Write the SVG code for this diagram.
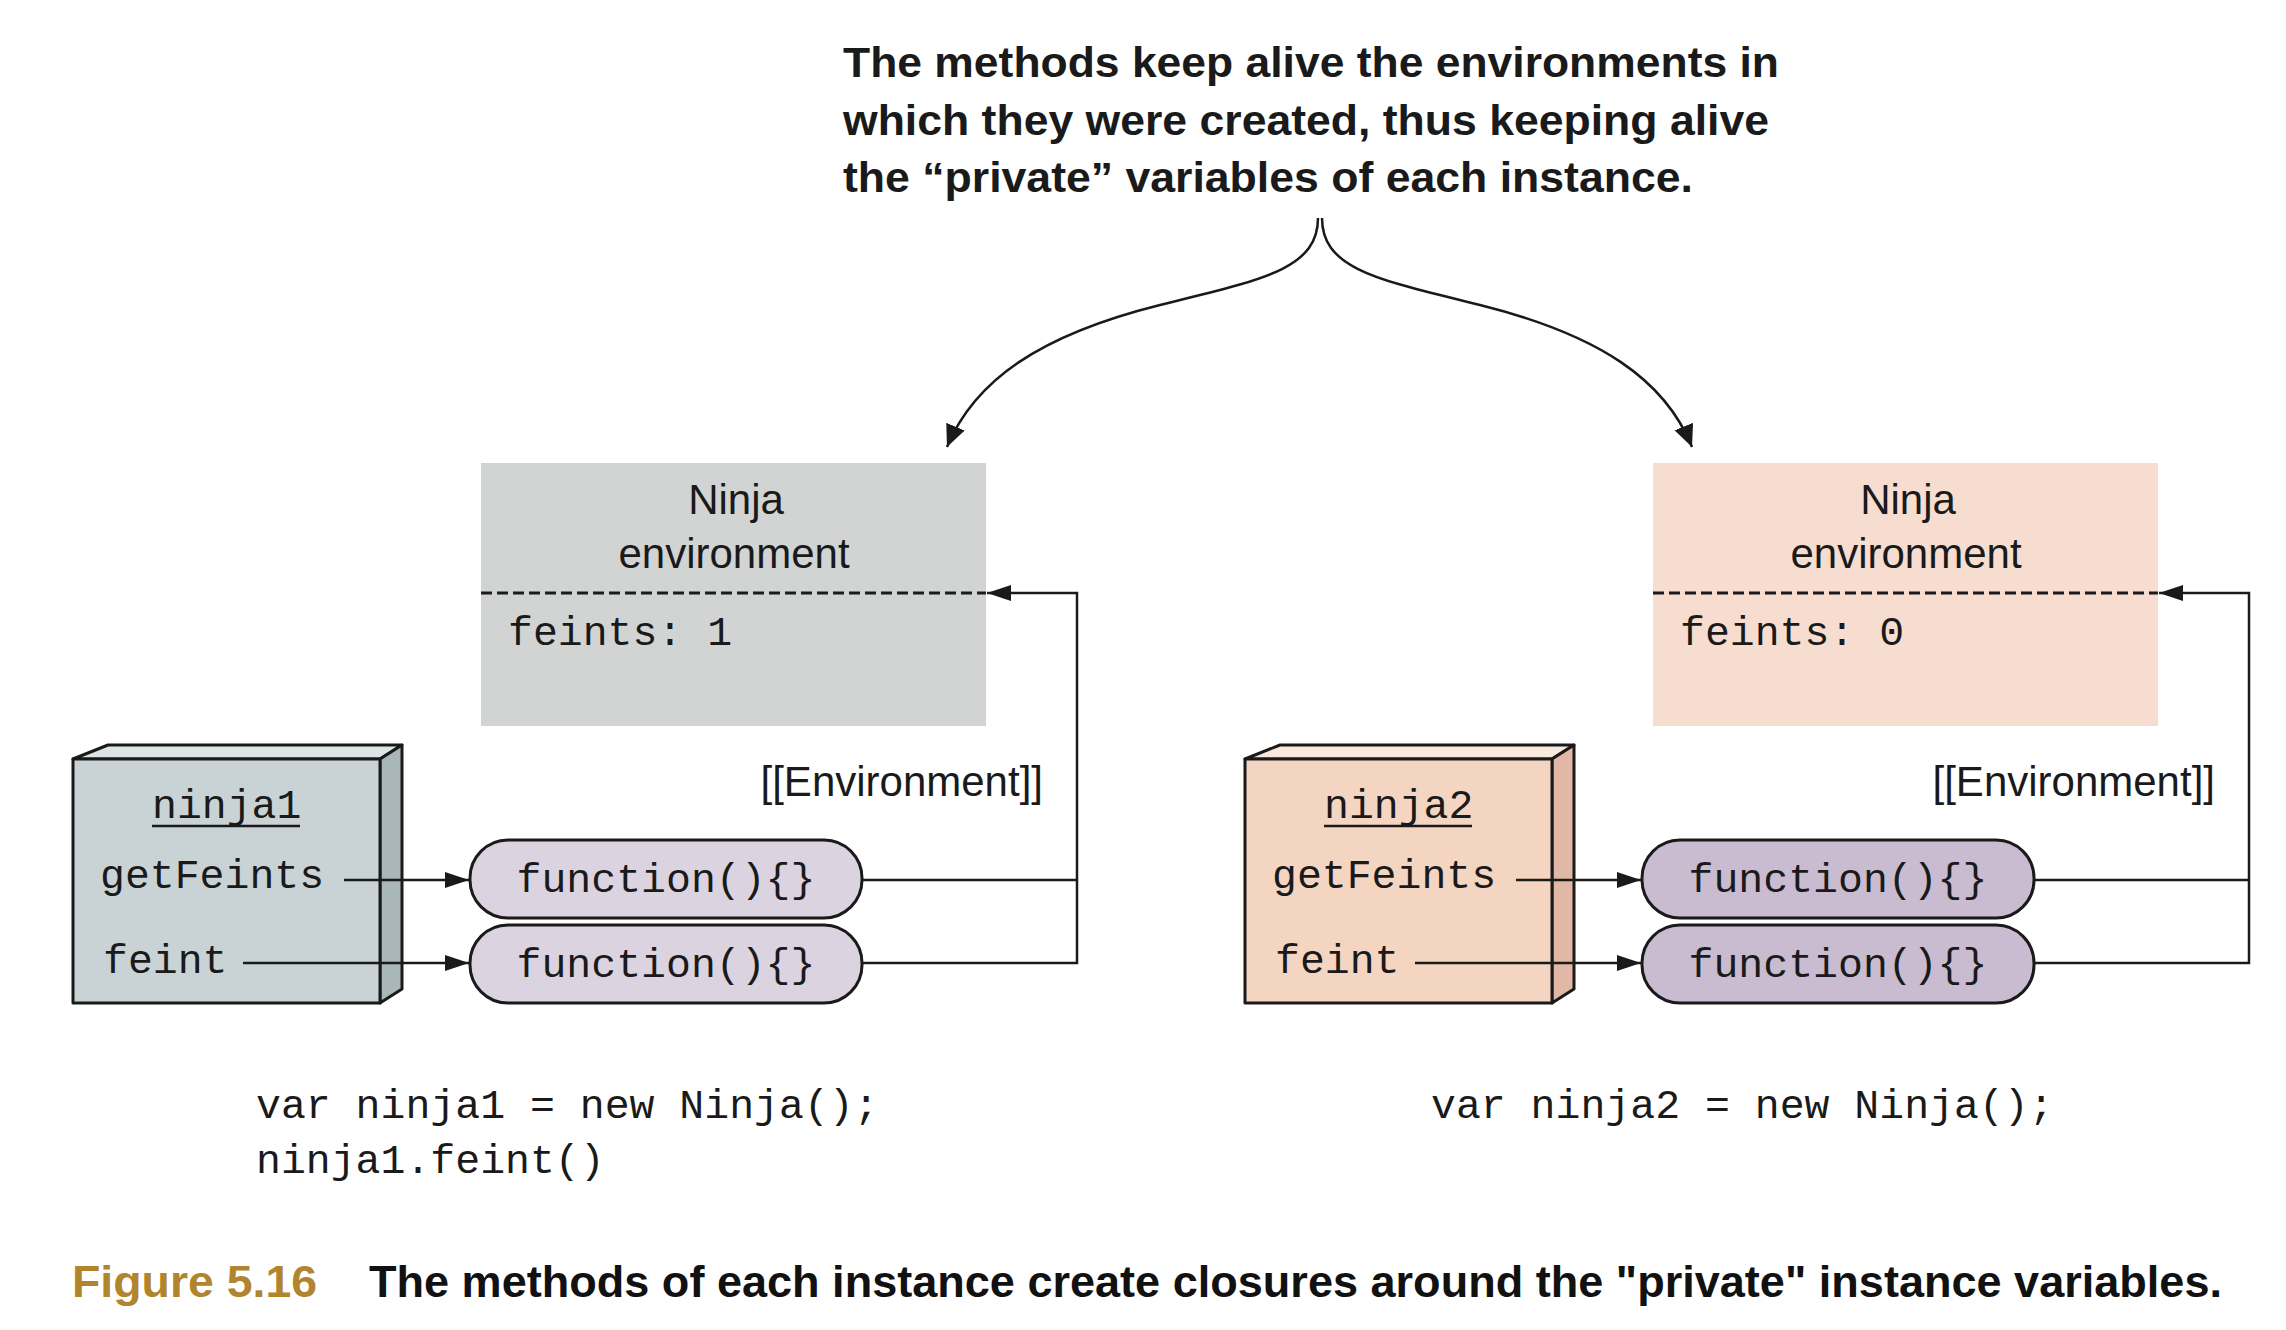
<svg xmlns="http://www.w3.org/2000/svg" width="2286" height="1330" viewBox="0 0 2286 1330">
<defs>
<style>
.note{font-family:"Liberation Sans",Arial,sans-serif;font-weight:bold;font-size:43px;fill:#1a1a1a}
.sans{font-family:"Liberation Sans",Arial,sans-serif;font-size:42px;fill:#1a1a1a}
.mono{font-family:"Liberation Mono","Courier New",monospace;font-size:41.5px;fill:#1a1a1a}
.cap{font-family:"Liberation Sans",Arial,sans-serif;font-weight:bold;font-size:45px}
.edge{fill:none;stroke:#1a1a1a;stroke-width:2.5}
.outline{stroke:#1a1a1a;stroke-width:3;stroke-linejoin:round}
.dash{stroke:#1a1a1a;stroke-width:3;stroke-dasharray:11 5}
</style>
<marker id="ah" markerUnits="userSpaceOnUse" markerWidth="26" markerHeight="18" refX="24" refY="8" orient="auto">
<path d="M0,0 L24,8 L0,16 Z" fill="#1a1a1a"/>
</marker>
<marker id="ahc" markerUnits="userSpaceOnUse" markerWidth="24" markerHeight="22" refX="22" refY="10" orient="auto">
<path d="M0,0 L22,10 L0,20 Z" fill="#1a1a1a"/>
</marker>
</defs>
<rect width="2286" height="1330" fill="#ffffff"/>

<g id="note">
<text class="note" x="843" y="77" textLength="936" lengthAdjust="spacingAndGlyphs">The methods keep alive the environments in</text>
<text class="note" x="843" y="135" textLength="926" lengthAdjust="spacingAndGlyphs">which they were created, thus keeping alive</text>
<text class="note" x="843" y="192" textLength="850" lengthAdjust="spacingAndGlyphs">the “private” variables of each instance.</text>
</g>

<g id="env1">
<rect x="481" y="463" width="505" height="263" fill="#d2d4d3"/>
<text class="sans" x="736" y="514" text-anchor="middle">Ninja</text>
<text class="sans" x="734" y="568" text-anchor="middle">environment</text>
<line class="dash" x1="481" y1="593" x2="986" y2="593"/>
<text class="mono" x="508" y="645">feints: 1</text>
</g>

<g id="env2">
<rect x="1653" y="463" width="505" height="263" fill="#f7ddd0"/>
<text class="sans" x="1908" y="514" text-anchor="middle">Ninja</text>
<text class="sans" x="1906" y="568" text-anchor="middle">environment</text>
<line class="dash" x1="1653" y1="593" x2="2158" y2="593"/>
<text class="mono" x="1680" y="645">feints: 0</text>
</g>

<g id="ninja1">
<polygon class="outline" points="73,759 108,745 402,745 380,759" fill="#dde4e5"/>
<polygon class="outline" points="380,759 402,745 402,989 380,1003" fill="#a9b6ba"/>
<rect class="outline" x="73" y="759" width="307" height="244" fill="#c9d3d6"/>
<text class="mono" x="152" y="818">ninja1</text>
<line x1="152" y1="826" x2="300" y2="826" stroke="#1a1a1a" stroke-width="2.5"/>
<text class="mono" x="100" y="888">getFeints</text>
<text class="mono" x="103" y="973">feint</text>
</g>

<g id="ninja2">
<polygon class="outline" points="1245,759 1280,745 1574,745 1552,759" fill="#f9e9dd"/>
<polygon class="outline" points="1552,759 1574,745 1574,989 1552,1003" fill="#e0b8a5"/>
<rect class="outline" x="1245" y="759" width="307" height="244" fill="#f4d5c2"/>
<text class="mono" x="1324" y="818">ninja2</text>
<line x1="1324" y1="826" x2="1472" y2="826" stroke="#1a1a1a" stroke-width="2.5"/>
<text class="mono" x="1272" y="888">getFeints</text>
<text class="mono" x="1275" y="973">feint</text>
</g>

<g id="fn1a">
<rect class="outline" x="470" y="840" width="392" height="78" rx="38" ry="38" fill="#dcd3e0"/>
<text class="mono" x="666" y="892" text-anchor="middle">function(){}</text>
</g>
<g id="fn1b">
<rect class="outline" x="470" y="925" width="392" height="78" rx="38" ry="38" fill="#dcd3e0"/>
<text class="mono" x="666" y="977" text-anchor="middle">function(){}</text>
</g>
<g id="fn2a">
<rect class="outline" x="1642" y="840" width="392" height="78" rx="38" ry="38" fill="#c9bbd0"/>
<text class="mono" x="1838" y="892" text-anchor="middle">function(){}</text>
</g>
<g id="fn2b">
<rect class="outline" x="1642" y="925" width="392" height="78" rx="38" ry="38" fill="#c9bbd0"/>
<text class="mono" x="1838" y="977" text-anchor="middle">function(){}</text>
</g>

<g id="connectors">
<path class="edge" d="M1318,218 C1318,270 1260,280 1160,305 C1040,335 975,380 947,447" marker-end="url(#ahc)"/>
<path class="edge" d="M1322,218 C1322,270 1380,280 1480,305 C1600,335 1665,380 1692,447" marker-end="url(#ahc)"/>
<path class="edge" d="M344,880 H469" marker-end="url(#ah)"/>
<path class="edge" d="M243,963 H469" marker-end="url(#ah)"/>
<path class="edge" d="M862,880 H1077"/>
<path class="edge" d="M862,963 H1077 V593 H987" marker-end="url(#ah)"/>
<text class="sans" x="1043" y="796" text-anchor="end">[[Environment]]</text>
<path class="edge" d="M1516,880 H1641" marker-end="url(#ah)"/>
<path class="edge" d="M1415,963 H1641" marker-end="url(#ah)"/>
<path class="edge" d="M2034,880 H2249"/>
<path class="edge" d="M2034,963 H2249 V593 H2159" marker-end="url(#ah)"/>
<text class="sans" x="2215" y="796" text-anchor="end">[[Environment]]</text>
</g>

<g id="code">
<text class="mono" x="256" y="1118">var ninja1 = new Ninja();</text>
<text class="mono" x="256" y="1173">ninja1.feint()</text>
<text class="mono" x="1431" y="1118">var ninja2 = new Ninja();</text>
</g>

<g id="caption">
<text class="cap" x="72" y="1297" fill="#b0852e" textLength="245" lengthAdjust="spacingAndGlyphs">Figure 5.16</text>
<text class="cap" x="369" y="1297" fill="#111111" textLength="1853" lengthAdjust="spacingAndGlyphs">The methods of each instance create closures around the "private" instance variables.</text>
</g>
</svg>
